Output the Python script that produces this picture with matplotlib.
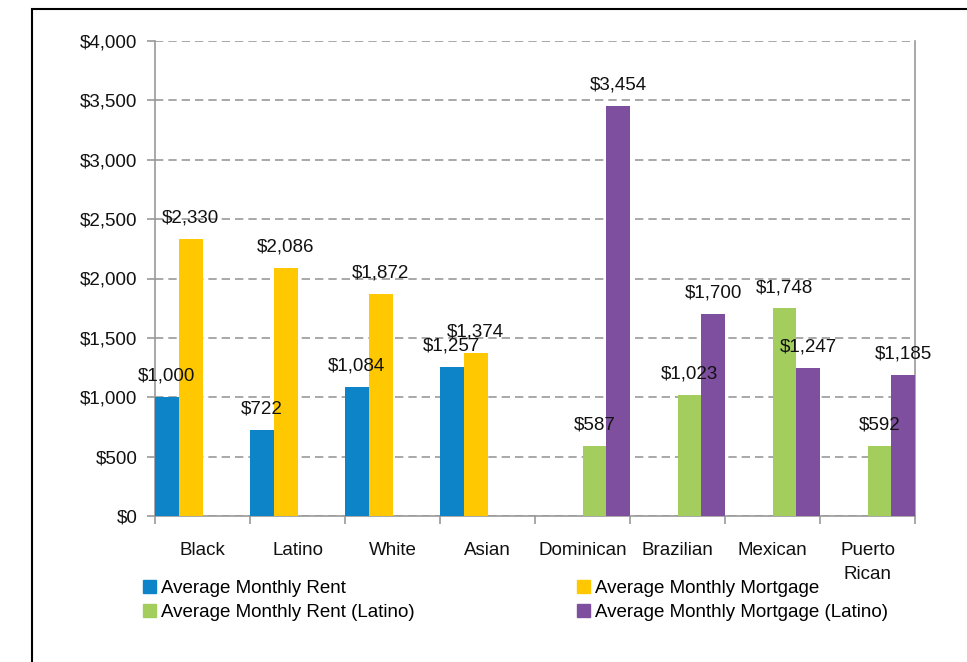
import matplotlib
matplotlib.use("Agg")
import matplotlib.pyplot as plt
import numpy as np
from matplotlib.patches import Rectangle, Patch

plt.rcParams['font.family'] = ['Liberation Sans', 'DejaVu Sans']

categories = ["Black", "Latino", "White", "Asian", "Dominican", "Brazilian", "Mexican", "Puerto\nRican"]
rent = [1000, 722, 1084, 1257, np.nan, np.nan, np.nan, np.nan]
mortgage = [2330, 2086, 1872, 1374, np.nan, np.nan, np.nan, np.nan]
rent_latino = [np.nan, np.nan, np.nan, np.nan, 587, 1023, 1748, 592]
mortgage_latino = [np.nan, np.nan, np.nan, np.nan, 3454, 1700, 1247, 1185]
series_names = ["Average Monthly Rent", "Average Monthly Mortgage",
                "Average Monthly Rent (Latino)", "Average Monthly Mortgage (Latino)"]
colors = ["#0E84C8", "#FFC800", "#A3CE5E", "#7E4E9F"]
yticks = [0, 500, 1000, 1500, 2000, 2500, 3000, 3500, 4000]

FS = 13.5
W, H = 967, 662
fig = plt.figure(figsize=(W / 100, H / 100), dpi=100)
ax = fig.add_axes([155 / W, 1 - 516 / H, (915 - 155) / W, (516 - 41) / H])

x = np.arange(len(categories))
bw = 0.25
all_series = [rent, mortgage, rent_latino, mortgage_latino]
for j, vals in enumerate(all_series):
    offs = (j - 1.5) * bw
    v = np.array(vals, dtype=float)
    mask = ~np.isnan(v)
    ax.bar(x[mask] + offs, v[mask], width=bw, color=colors[j], zorder=3)
    for xi, vi in zip(x[mask] + offs, v[mask]):
        ax.annotate(f"${vi:,.0f}", (xi, vi), xytext=(0, 15), textcoords="offset points",
                    ha="center", va="center", fontsize=FS, color="#111111", zorder=4)

ax.set_xlim(-0.5, len(categories) - 0.5)
ax.set_ylim(0, 4000)
ax.set_yticks(yticks)
ax.set_yticklabels([f"${t:,.0f}" for t in yticks], fontsize=FS, color="#111111")
ax.set_xticks(x)
ax.set_xticklabels(categories, fontsize=FS, color="#111111", linespacing=1.5)
ax.set_xticks(np.arange(len(categories) + 1) - 0.5, minor=True)
ax.tick_params(axis="x", which="major", length=0, pad=19)
ax.tick_params(axis="x", which="minor", length=6, width=1.2, color="#999999")
ax.tick_params(axis="y", length=6, width=1.2, color="#999999", pad=6.5)

ax.yaxis.grid(True, linestyle=(0, (5, 3)), color="#9a9a9a", linewidth=1.2, zorder=0)
ax.set_axisbelow(True)
for s in ["left", "bottom", "right"]:
    ax.spines[s].set_color("#999999")
    ax.spines[s].set_linewidth(1.2)
ax.spines["top"].set_visible(False)

handles = [Patch(color=c) for c in colors]
leg_kw = dict(frameon=False, fontsize=FS, handlelength=0.68, handleheight=0.68,
              handletextpad=0.3, labelspacing=0.38, borderpad=0, borderaxespad=0)
fig.legend([handles[0], handles[2]], [series_names[0], series_names[2]],
           loc="upper left", bbox_to_anchor=(143 / W, 1 - 580 / H), **leg_kw)
fig.legend([handles[1], handles[3]], [series_names[1], series_names[3]],
           loc="upper left", bbox_to_anchor=(577 / W, 1 - 580 / H), **leg_kw)

fig.patches.append(Rectangle((32 / W, -0.1), 1.2, 1.1 - 9 / H, transform=fig.transFigure,
                             fill=False, edgecolor="black", linewidth=1.5))

fig.savefig("out.png", dpi=100, facecolor="white")
